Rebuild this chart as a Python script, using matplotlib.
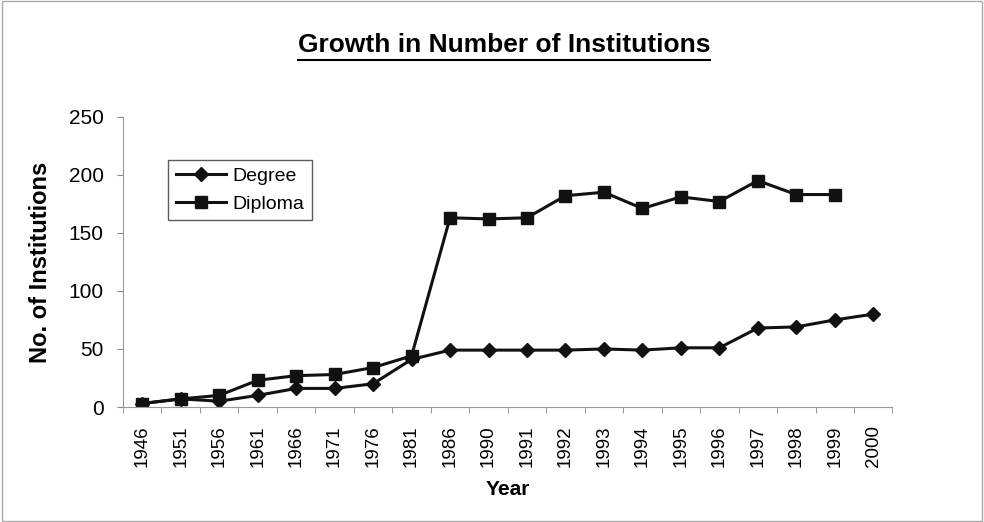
import matplotlib
matplotlib.use("Agg")
import matplotlib.pyplot as plt
from matplotlib.lines import Line2D
from matplotlib.patches import Rectangle

plt.rcParams['font.family'] = ['Liberation Sans', 'DejaVu Sans']

years = ['1946', '1951', '1956', '1961', '1966', '1971', '1976', '1981', '1986', '1990',
         '1991', '1992', '1993', '1994', '1995', '1996', '1997', '1998', '1999', '2000']
degree = [3, 7, 5, 10, 16, 16, 20, 41, 49, 49, 49, 49, 50, 49, 51, 51, 68, 69, 75, 80]
diploma = [3, 7, 10, 23, 27, 28, 34, 44, 163, 162, 163, 182, 185, 171, 181, 177, 195, 183, 183]

fig = plt.figure(figsize=(9.84, 5.22), dpi=100)
ax = fig.add_axes([0.125, 0.2203, 0.782, 0.556])

x = list(range(len(years)))
ax.plot(x, degree, color='#111111', lw=2.2, marker='D', ms=7, label='Degree')
ax.plot(x[:len(diploma)], diploma, color='#111111', lw=2.2, marker='s', ms=8, label='Diploma')

ax.set_xlim(-0.5, len(years) - 0.5)
ax.set_ylim(0, 250)
ax.set_yticks([0, 50, 100, 150, 200, 250])
ax.set_xticks(x)
ax.set_xticklabels(years, rotation=90, fontsize=13.5)
ax.set_xticks([i + 0.5 for i in range(-1, len(years))], minor=True)
ax.tick_params(axis='x', which='major', length=0, pad=13)
ax.tick_params(axis='x', which='minor', length=4, color='#888888')
ax.tick_params(axis='y', length=4, color='#888888', labelsize=15, pad=10)

for s in ['top', 'right']:
    ax.spines[s].set_visible(False)
ax.spines['left'].set_color('#999999')
ax.spines['bottom'].set_color('#999999')

ax.set_ylabel('No. of Institutions', fontsize=17, fontweight='bold', labelpad=12)
ax.set_xlabel('Year', fontsize=15, fontweight='bold', labelpad=9)

leg = ax.legend(loc='upper left', bbox_to_anchor=(0.046, 0.885), fontsize=14,
                frameon=True, fancybox=False, edgecolor='#333333',
                handlelength=2.6, borderpad=0.4, labelspacing=0.5, handletextpad=0.3)
leg.get_frame().set_linewidth(1.0)

title = fig.text(0.512, 0.913, 'Growth in Number of Institutions', ha='center', va='center',
                 fontsize=19, fontweight='bold')

# underline the title
fig.canvas.draw()
bb = title.get_window_extent().transformed(fig.transFigure.inverted())
fig.add_artist(Line2D([bb.x0, bb.x1], [bb.y0 - 0.004, bb.y0 - 0.004], color='black', lw=1.5))

# outer frame
fig.add_artist(Rectangle((0.002, 0.002), 0.996, 0.996, transform=fig.transFigure,
                         fill=False, edgecolor='#aaaaaa', lw=1.0))

fig.savefig('out.png', dpi=100)
